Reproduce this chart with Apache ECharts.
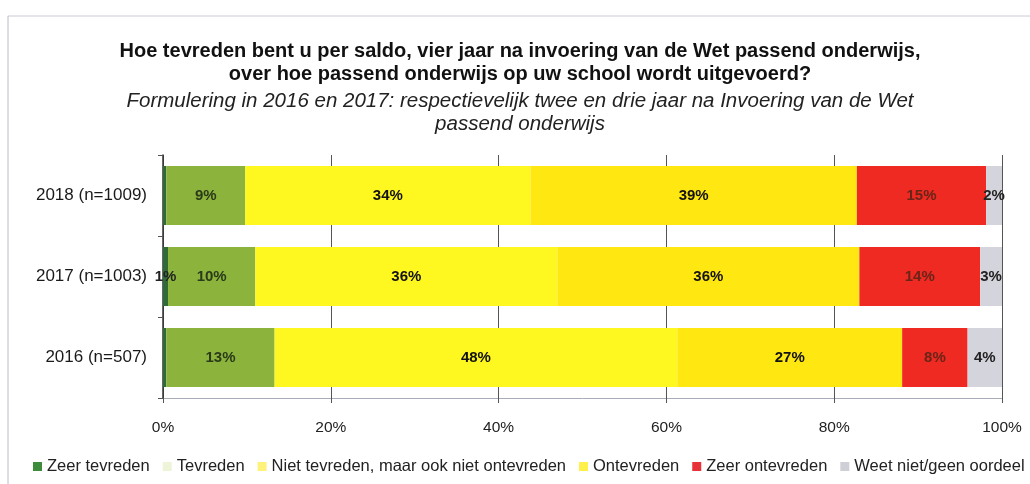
<!DOCTYPE html>
<html>
<head>
<meta charset="utf-8">
<script src="https://cdn.jsdelivr.net/npm/echarts@6/dist/echarts.min.js"></script>
<style>
  html, body { margin: 0; padding: 0; background: #fff; }
  #chart { width: 1030px; height: 484px; }
</style>
</head>
<body>
<div id="chart"></div>
<script>
// categories (top to bottom)
var years = ['2018 (n=1009)', '2017 (n=1003)', '2016 (n=507)'];
var xTicks = ['0%', '20%', '40%', '60%', '80%', '100%'];

// percentages per answer, same order as years
var zeerTevreden   = [0.4, 0.6, 0.4];
var tevreden       = [9.4, 10.4, 12.9];
var nietNiet       = [34.0, 36.0, 48.0];
var ontevreden     = [38.9, 36.0, 26.8];
var zeerOntevreden = [15.4, 14.4, 7.8];
var weetNiet       = [1.9, 2.6, 4.1];

var names = ['Zeer tevreden', 'Tevreden', 'Niet tevreden, maar ook niet ontevreden',
             'Ontevreden', 'Zeer ontevreden', 'Weet niet/geen oordeel'];
var colors = ['#2f6a38', '#8cb43c', '#fff820', '#ffe812', '#ee2a22', '#d4d4dc'];
var labelColors = ['#222', '#2a3a1a', '#111', '#111', '#6a2418', '#222'];
var legendIcons = ['#3c8c3c', '#eef4d8', '#fff27a', '#fff04a', '#e8323a', '#cfcfd8'];
var values = [zeerTevreden, tevreden, nietNiet, ontevreden, zeerOntevreden, weetNiet];

var font = 'Liberation Sans';
var chart = echarts.init(document.getElementById('chart'));

var series = names.map(function (n, i) {
  return {
    name: n,
    type: 'bar',
    stack: 'total',
    barWidth: 59,
    data: values[i],
    itemStyle: { color: colors[i] },
    label: {
      show: true,
      position: 'inside',
      fontFamily: font,
      fontSize: 15,
      fontWeight: 'bold',
      color: labelColors[i],
      formatter: function (p) {
        return p.value >= 0.5 ? Math.round(p.value) + '%' : '';
      }
    }
  };
});

chart.setOption({
  animation: false,
  title: {
    text: 'Hoe tevreden bent u per saldo, vier jaar na invoering van de Wet passend onderwijs,\nover hoe passend onderwijs op uw school wordt uitgevoerd?',
    subtext: 'Formulering in 2016 en 2017: respectievelijk twee en drie jaar na Invoering van de Wet\npassend onderwijs',
    left: 515,
    textAlign: 'center',
    top: 35,
    itemGap: 4,
    textStyle: { fontFamily: font, fontSize: 20, fontWeight: 'bold', color: '#111', lineHeight: 23 },
    subtextStyle: { fontFamily: font, fontSize: 20.5, fontStyle: 'italic', color: '#222', lineHeight: 23 }
  },
  legend: {
    left: 28,
    top: 453,
    itemWidth: 9,
    itemHeight: 9,
    itemGap: 13,
    icon: 'rect',
    textStyle: { fontFamily: font, fontSize: 16.5, color: '#222', padding: [0, 0, 0, 0] },
    data: names.map(function (n, i) {
      return { name: n, itemStyle: { color: legendIcons[i] } };
    })
  },
  grid: { left: 163, right: 28, top: 155, bottom: 86 },
  xAxis: {
    type: 'value',
    min: 0,
    max: 100,
    interval: 20,
    axisLine: { show: true, lineStyle: { color: '#a8acb8' } },
    axisTick: { show: true, length: 5, lineStyle: { color: '#555' } },
    splitLine: { show: true, lineStyle: { color: '#555' } },
    axisLabel: {
      fontFamily: font, fontSize: 15.5, color: '#222', margin: 22,
      formatter: function (v) { return xTicks[v / 20]; }
    }
  },
  yAxis: {
    type: 'category',
    inverse: true,
    data: years,
    axisLine: { show: true, lineStyle: { color: '#333', width: 1.5 } },
    axisTick: { show: true, length: 5, lineStyle: { color: '#555' } },
    axisLabel: { fontFamily: font, fontSize: 17, color: '#1a1a1a', margin: 16 }
  },
  graphic: [
    { type: 'line', shape: { x1: 8, y1: 16, x2: 1030, y2: 16 }, style: { stroke: '#c8ccd6', lineWidth: 1 } },
    { type: 'line', shape: { x1: 8, y1: 16, x2: 8, y2: 484 }, style: { stroke: '#b8bcc6', lineWidth: 1 } }
  ],
  series: series
});
</script>
</body>
</html>
